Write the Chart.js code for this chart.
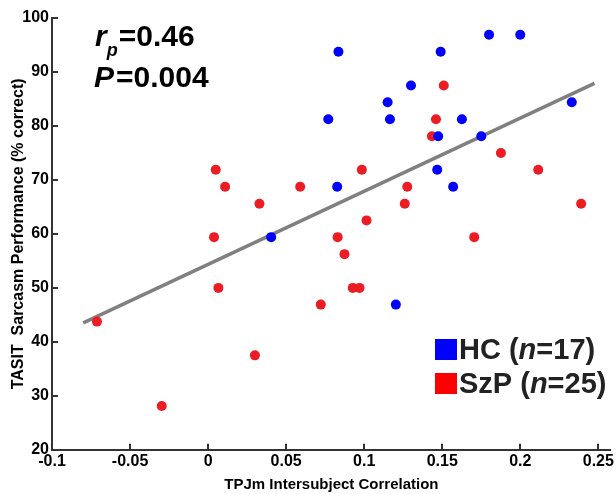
<!DOCTYPE html>
<html>
<head>
<meta charset="utf-8">
<script src="https://cdn.jsdelivr.net/npm/chart.js@4/dist/chart.umd.min.js"></script>
<style>
  html, body { margin: 0; padding: 0; background: #fff; }
  #wrap { width: 616px; height: 494px; position: relative; }
</style>
</head>
<body>
<div id="wrap"><canvas id="myChart"></canvas></div>
<script>
// healthy controls
const hcX = [0.0835, 0.149, 0.180, 0.200, 0.130, 0.115, 0.233, 0.077, 0.1165, 0.1626, 0.1474, 0.175, 0.1468, 0.0827, 0.157, 0.0404, 0.1203];
const hcY = [93.75, 93.75, 96.9, 96.9, 87.5, 84.4, 84.4, 81.25, 81.25, 81.25, 78.1, 78.1, 71.9, 68.75, 68.75, 59.4, 46.9];
// schizophrenia patients
const szX = [0.151, 0.146, 0.1434, 0.1876, 0.0985, 0.2115, 0.059, 0.1276, 0.126, 0.239, 0.1015, 0.083, 0.1705,
  0.0049, 0.0109, 0.0329, 0.0038, 0.0874, 0.0927, 0.097, 0.0722, 0.0066, -0.0712, 0.030, -0.0297];
const szY = [87.5, 81.25, 78.1, 75.0, 71.9, 71.9, 68.75, 68.75, 65.6, 65.6, 62.5, 59.4, 59.4,
  71.9, 68.75, 65.6, 59.4, 56.25, 50.0, 50.0, 46.9, 50.0, 43.75, 37.5, 28.1];
// fit line end points
const fitX = [-0.08, 0.2475];
const fitY = [43.5, 87.9];
const xTicks = [-0.1, -0.05, 0, 0.05, 0.1, 0.15, 0.2, 0.25];

const pts = (xs, ys) => xs.map((x, i) => ({ x: x, y: ys[i] }));
const FONT = 'Liberation Sans';

const overlay = {
  id: 'overlay',
  afterDraw(chart) {
    const ctx = chart.ctx;
    const xs = chart.scales.x, ys = chart.scales.y;
    ctx.save();
    // inward tick marks
    ctx.strokeStyle = '#333';
    ctx.lineWidth = 2;
    ctx.beginPath();
    xs.ticks.forEach(t => {
      const p = Math.round(xs.getPixelForValue(t.value));
      ctx.moveTo(p, xs.top); ctx.lineTo(p, xs.top - 6);
    });
    ys.ticks.forEach(t => {
      const p = Math.round(ys.getPixelForValue(t.value));
      ctx.moveTo(ys.right, p); ctx.lineTo(ys.right + 6, p);
    });
    ctx.stroke();

    ctx.fillStyle = '#000';
    ctx.textBaseline = 'alphabetic';
    // r_p = 0.46
    ctx.font = 'italic bold 30px ' + FONT;
    ctx.fillText('r', 95, 46);
    let w = ctx.measureText('r').width;
    ctx.font = 'italic bold 18px ' + FONT;
    ctx.fillText('p', 95 + w, 56);
    ctx.font = 'bold 30px ' + FONT;
    ctx.fillText('=0.46', 95 + w + 12, 46);
    // P = 0.004
    ctx.font = 'italic bold 30px ' + FONT;
    ctx.fillText('P', 94, 87);
    w = ctx.measureText('P').width;
    ctx.font = 'bold 30px ' + FONT;
    ctx.fillText('=0.004', 94 + w + 2, 87);

    // legend
    const items = [['#0000ff', 'HC (', '17)', 359], ['#ff0000', 'SzP (', '25)', 393]];
    items.forEach(([c, a, b, base]) => {
      ctx.fillStyle = c;
      ctx.fillRect(435, base - 20, 22, 21);
      ctx.fillStyle = '#222';
      let x = 459;
      ctx.font = 'bold 29px ' + FONT;
      ctx.fillText(a, x, base); x += ctx.measureText(a).width;
      ctx.font = 'italic bold 29px ' + FONT;
      ctx.fillText('n', x, base); x += ctx.measureText('n').width;
      ctx.font = 'bold 29px ' + FONT;
      ctx.fillText('=' + b, x, base);
    });
    ctx.restore();
  }
};

const data = {
  datasets: [
    {
      label: 'HC (n=17)',
      data: pts(hcX, hcY),
      backgroundColor: '#0000ff',
      borderWidth: 0,
      pointRadius: 5
    },
    {
      label: 'SzP (n=25)',
      data: pts(szX, szY),
      backgroundColor: '#ec1c24',
      borderWidth: 0,
      pointRadius: 5
    },
    {
      label: 'fit',
      data: pts(fitX, fitY),
      showLine: true,
      borderColor: '#808080',
      borderWidth: 3.5,
      pointRadius: 0
    }
  ]
};

const config = {
  type: 'scatter',
  data,
  options: {
    responsive: true,
    maintainAspectRatio: false,
    animation: false,
    layout: { padding: { top: 18, right: 4, left: 0, bottom: 0 } },
    plugins: { legend: { display: false }, tooltip: { enabled: false } },
    scales: {
      x: {
        min: -0.1,
        max: 0.258,
        afterBuildTicks: (axis) => { axis.ticks = xTicks.map(v => ({ value: v })); },
        ticks: {
          color: '#000',
          font: { family: FONT, size: 16, weight: 'bold' },
          padding: 2,
          maxRotation: 0,
          callback: (v) => String(Math.round(v * 100) / 100)
        },
        grid: { drawOnChartArea: false, drawTicks: false },
        border: { color: '#333', width: 2 },
        title: {
          display: true,
          text: 'TPJm Intersubject Correlation',
          color: '#000',
          font: { family: FONT, size: 15, weight: 'bold' },
          padding: { top: 3, bottom: 0 }
        }
      },
      y: {
        min: 20,
        max: 100,
        afterFit: (axis) => { axis.width = 52; },
        ticks: {
          stepSize: 10,
          color: '#000',
          font: { family: FONT, size: 16, weight: 'bold' },
          padding: 3
        },
        grid: { drawOnChartArea: false, drawTicks: false },
        border: { color: '#333', width: 2 },
        title: {
          display: true,
          text: 'TASIT  Sarcasm Performance (% correct)',
          color: '#000',
          font: { family: FONT, size: 16, weight: 'bold' },
          padding: { top: 9, bottom: 0 }
        }
      }
    }
  },
  plugins: [overlay]
};

var myChart = new Chart(document.getElementById('myChart'), config);
</script>
</body>
</html>
